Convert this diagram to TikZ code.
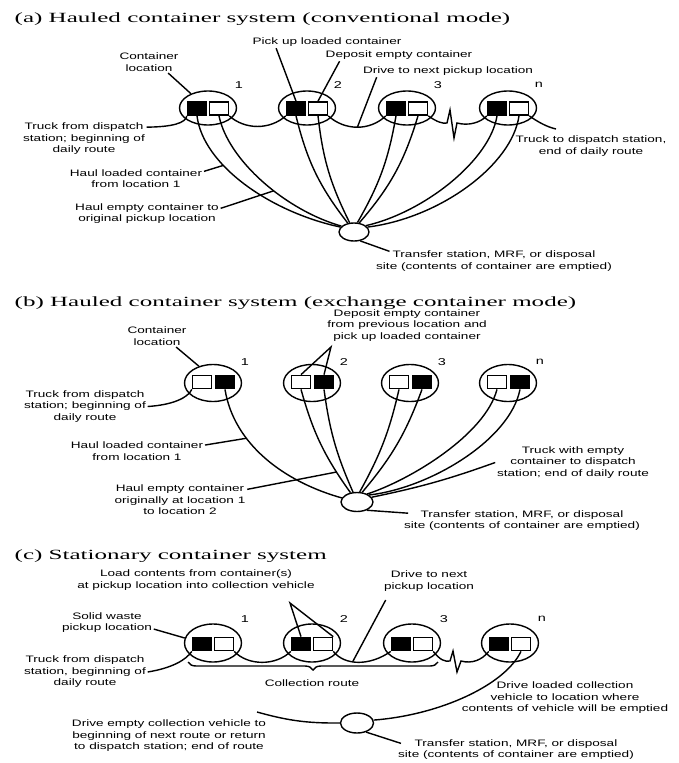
\documentclass[tikz,border=0pt]{standalone}
\usepackage{fontspec}
\setmainfont{Liberation Sans}
\newfontfamily\headfont[FakeStretch=1.78]{Liberation Serif}
\newfontfamily\notefont[FakeStretch=1.45]{Liberation Sans}
\usetikzlibrary{shapes.geometric,decorations.pathreplacing}

\begin{document}
\begin{tikzpicture}[x=0.03cm,y=-0.03cm,line width=1.2pt,
    headtext/.style={anchor=west,inner sep=0pt,font=\headfont\fontsize{12}{14}\selectfont},
    notetext/.style={align=center,inner sep=1pt,font=\notefont\fontsize{8}{9.8}\selectfont},
    locnum/.style={inner sep=0pt,font=\notefont\fontsize{8.5}{9.8}\selectfont},
    site/.style={draw,ellipse,inner sep=0pt,minimum width=1.71cm,minimum height=1.11cm},
    dumpsite/.style={draw,ellipse,inner sep=0pt,minimum width=0.96cm,minimum height=0.57cm},
    fullbin/.style={draw,fill=black,inner sep=0pt,minimum width=0.57cm,minimum height=0.4cm},
    emptybin/.style={draw,fill=white,inner sep=0pt,minimum width=0.57cm,minimum height=0.4cm}]
\fill[white] (0,0) rectangle (678,763);

% (a) conventional mode
\node[headtext] (aTitle) at (14,19) {(a) Hauled container system (conventional mode)};
\foreach \n/\x in {1/208,2/307,3/407,n/508}{
  \node[site,minimum height=1.02cm] (a\n) at (\x,108) {};
  \node[fullbin] (ak\n) at (\x-11,108.5) {};
  \node[emptybin] (aw\n) at (\x+11,108.5) {};
  \node[locnum] (aN\n) at (\x+31,85) {\n};
}
\node[dumpsite,minimum width=0.9cm,minimum height=0.54cm] (aT) at (354,232) {};
\node[notetext] (aCont) at (149,62) {Container\\location};
\node[notetext] (aPick) at (327,42) {Pick up loaded container};
\node[notetext] (aDep) at (399,55) {Deposit empty container};
\node[notetext] (aDrive) at (448,71) {Drive to next pickup location};
\node[notetext] (aStart) at (84,139) {Truck from dispatch\\station; beginning of\\daily route};
\node[notetext] (aEnd) at (591,146) {Truck to dispatch station,\\end of daily route};
\node[notetext] (aLoad) at (136,178.5) {Haul loaded container\\from location 1};
\node[notetext] (aEmp) at (147,213.5) {Haul empty container to\\original pickup location};
\node[notetext] (aTr) at (494,261) {Transfer station, MRF, or disposal\\site (contents of container are emptied)};
\coordinate (aEndPt) at (556,129);
\draw ([yshift=-5pt]aStart.north east) .. controls (172,127) and (186,123) .. (ak1.south west);
\draw (aw1.south east) .. controls (245,130) and (270,130) .. (ak2.south west);
\draw (aw2.south east) .. controls (345,131) and (370,131) .. coordinate[pos=.5] (aMid) (ak3.south west);
\draw (aw3.south east) .. controls (437,122) and (443,124) .. (447,123) -- (450,110) -- (454,138) -- (457,123)
  .. controls (468,126) and (480,123) .. (akn.south west);
\draw (awn.south east) .. controls (538,122) and (547,127) .. (aEndPt);
\draw (ak1.south) .. controls (203,165) and (270,212) .. coordinate[pos=.35] (aLp) (aT.160);
\draw (aw1.south) .. controls (228,160) and (285,210) .. coordinate[pos=.58] (aEp) (aT.155);
\draw (ak2.south) to[bend right=12] (aT.125);
\draw (aw2.south) to[bend right=10] (aT.115);
\draw (ak3.south) to[bend left=10] (aT.70);
\draw (aw3.south) to[bend left=12] (aT.60);
\draw (akn.south) .. controls (490,160) and (425,212) .. (aT.28);
\draw (awn.south) .. controls (512,165) and (440,218) .. (aT.20);
\draw (aCont.-30) -- (a1.140);
\draw (aPick.187) -- (ak2.north);
\draw (aDep.186) -- (aw2.north);
\draw (aDrive.185) -- (aMid);
\draw (aLoad.6) -- (aLp);
\draw (aEmp.4) -- (aEp);
\draw (aT.-55) -- ([xshift=13pt,yshift=-2pt]aTr.north west);

% (b) exchange container mode
\node[headtext] (bTitle) at (14,303) {(b) Hauled container system (exchange container mode)};
\foreach \n/\x in {1/213,2/312,3/410,n/508}{
  \node[site] (b\n) at (\x,383) {};
  \node[emptybin] (bw\n) at (\x-11,382) {};
  \node[fullbin] (bk\n) at (\x+12,382) {};
  \node[locnum] (bN\n) at (\x+32,362) {\n};
}
\node[dumpsite] (bT) at (357,502) {};
\node[notetext] (bCont) at (157,336) {Container\\location};
\node[notetext] (bDep) at (407,325.5) {Deposit empty container\\from previous location and\\pick up loaded container};
\node[notetext] (bStart) at (85,406.5) {Truck from dispatch\\station; beginning of\\daily route};
\node[notetext] (bLoad) at (137,451) {Haul loaded container\\from location 1};
\node[notetext] (bEmp) at (180,500) {Haul empty container\\originally at location 1\\to location 2};
\node[notetext] (bEnd) at (573,462.5) {Truck with empty\\container to dispatch\\station; end of daily route};
\node[notetext] (bTr) at (522,520.5) {Transfer station, MRF, or disposal\\site (contents of container are emptied)};
\coordinate (bDepA) at (331,347);
\draw (bStart.east) .. controls (172,405) and (188,398) .. (bw1.south west);
\draw (bk1.south) .. controls (234,445) and (285,482) .. coordinate[pos=.33] (bLp) (bT.165);
\draw (bw2.south) to[bend right=10] coordinate[pos=.8] (bEp) (bT.125);
\draw (bk2.south) to[bend right=8] (bT.112);
\draw (bw3.south) to[bend left=8] (bT.75);
\draw (bk3.south) to[bend left=10] (bT.62);
\draw (bwn.south) .. controls (485,435) and (410,480) .. (bT.38);
\draw (bkn.south) .. controls (510,440) and (430,488) .. (bT.30);
\draw (bT.18) to[bend right=4] (bEnd.west);
\draw (bCont.-30) -- (b1.130);
\draw (bw2.north) -- (bDepA) -- (bk2.north);
\draw (bLoad.5) -- (bLp);
\draw (bEmp.9) -- (bEp);
\draw (bT.-40) -- ([xshift=5pt,yshift=-4pt]bTr.north west);

% (c) stationary container system
\node[headtext] (cTitle) at (14,556) {(c) Stationary container system};
\foreach \n/\x in {1/213,2/312,3/412,n/510}{
  \node[site,minimum height=1.14cm] (c\n) at (\x,643) {};
  \node[fullbin] (ck\n) at (\x-11,644) {};
  \node[emptybin] (cw\n) at (\x+11,644) {};
  \node[locnum] (cN\n) at (\x+32,619) {\n};
}
\node[dumpsite,minimum width=0.99cm,minimum height=0.6cm] (cT) at (357,723) {};
\node[notetext] (cLoad) at (196,580) {Load contents from container(s)\\at pickup location into collection vehicle};
\node[notetext] (cDrive) at (429,581) {Drive to next\\pickup location};
\node[notetext] (cSolid) at (107,622.5) {Solid waste\\pickup location};
\node[notetext] (cStart) at (85,672) {Truck from dispatch\\station, beginning of\\daily route};
\node[notetext] (cRoute) at (312,683) {Collection route};
\node[notetext] (cFull) at (565,698) {Drive loaded collection\\vehicle to location where\\contents of vehicle will be emptied};
\node[notetext] (cEmpty) at (169,736) {Drive empty collection vehicle to\\beginning of next route or return\\to dispatch station; end of route};
\node[notetext] (cTr) at (516,749.5) {Transfer station, MRF, or disposal\\site (contents of container are emptied)};
\coordinate (cLoadA) at (290,603);
\coordinate (cEmpPt) at (257,712);
\draw (cStart.east) .. controls (172,668) and (186,660) .. (ck1.south west);
\draw (cw1.south east) .. controls (248,666) and (276,666) .. (ck2.south west);
\draw (cw2.south east) .. controls (345,666) and (370,666) .. coordinate[pos=.4] (cMid) (ck3.south west);
\draw (cw3.south east) .. controls (440,660) and (445,662) .. (450,661) -- (453,651) -- (457,672) -- (461,661)
  .. controls (472,664) and (482,660) .. (ckn.south west);
\draw (cwn.south) .. controls (505,685) and (440,715) .. (cT.10);
\draw (cT.west) to[bend left=8] (cEmpPt);
\draw[decorate,decoration={brace,mirror,amplitude=0.24cm}] (188,662) -- (438,662);
\draw (ck2.north) -- (cLoadA) -- (cw2.north east);
\draw ([xshift=3pt,yshift=-6pt]cDrive.south west) -- (cMid);
\draw (cSolid.-8) -- (c1.170);
\draw (cT.-45) -- ([xshift=4pt,yshift=-5pt]cTr.north west);
\end{tikzpicture}
\end{document}
